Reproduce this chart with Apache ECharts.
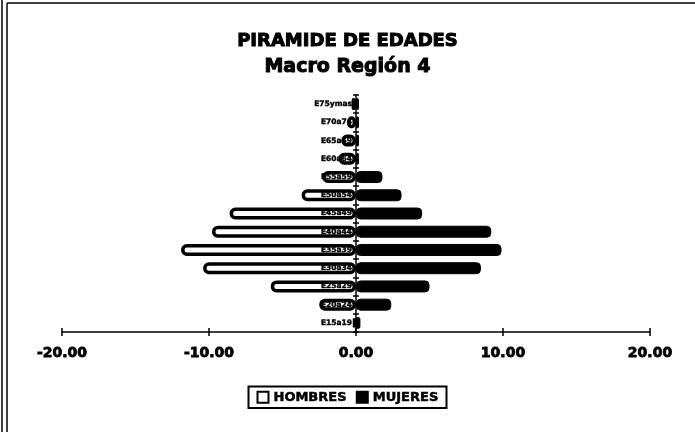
<!DOCTYPE html>
<html>
<head>
<meta charset="utf-8">
<script src="https://cdn.jsdelivr.net/npm/echarts@6/dist/echarts.min.js"></script>
<style>
html,body{margin:0;padding:0;background:#fff;}
#c{width:695px;height:432px;}
</style>
</head>
<body>
<div id="c"></div>
<script>
var categories = ['E15a19','E20a24','E25a29','E30a34','E35a39','E40a44','E45a49','E50a54','E55a59','E60a64','E65a69','E70a74','E75ymas'];
var hombres = [0.2, 2.5, 5.8, 10.4, 11.9, 9.8, 8.6, 3.7, 2.3, 1.2, 1.0, 0.6, 0.3];
var mujeres = [0.3, 2.4, 5.0, 8.5, 9.9, 9.2, 4.5, 3.1, 1.8, 0.2, 0.2, 0.2, 0.2];
var xTicks = [-20, -10, 0, 10, 20];

var chart = echarts.init(document.getElementById('c'));
var font = 'DejaVu Sans';
var gridLeft = 62, gridRight = 45, W = 695;
var zeroOffset = -((W - gridLeft - gridRight) / 2);
chart.setOption({
  animation: false,
  backgroundColor: '#fff',
  title: [
    {text: 'PIRAMIDE DE EDADES', left: 'center', top: 27, textStyle: {fontFamily: font, fontWeight: 'bold', fontSize: 18, color: '#000', textBorderColor: '#000', textBorderWidth: 1}},
    {text: 'Macro Región 4', left: 'center', top: 53, textStyle: {fontFamily: font, fontWeight: 'bold', fontSize: 19, color: '#000', textBorderColor: '#000', textBorderWidth: 1}}
  ],
  legend: {
    bottom: 24, left: 'center',
    data: ['HOMBRES', 'MUJERES'],
    itemWidth: 11, itemHeight: 11, itemGap: 9,
    borderColor: '#000', borderWidth: 2, padding: [4, 8],
    textStyle: {fontFamily: font, fontWeight: 'bold', fontSize: 13, color: '#000', textBorderColor: '#000', textBorderWidth: 0.5},
    icon: 'rect'
  },
  grid: {left: gridLeft, right: gridRight, top: 95, bottom: 100, containLabel: false},
  xAxis: [
    {
      type: 'value', min: -20, max: 20, interval: 10,
      axisLine: {show: true, lineStyle: {color: '#000', width: 1.5}},
      axisTick: {show: true, length: 4, lineStyle: {color: '#000', width: 1.5}},
      splitLine: {show: false},
      axisLabel: {margin: 14, fontFamily: font, fontWeight: 'bold', fontSize: 14, color: '#000', textBorderColor: '#000', textBorderWidth: 0.8,
        formatter: function (v) { return xTicks.indexOf(v) >= 0 ? v.toFixed(2) : ''; }}
    },
    {
      type: 'value', min: -20, max: 20, interval: 10, position: 'bottom',
      axisLine: {show: false},
      axisTick: {show: true, inside: true, length: 4, lineStyle: {color: '#000', width: 1.5}},
      splitLine: {show: false}, axisLabel: {show: false}
    }
  ],
  yAxis: [
    {
      type: 'category', data: categories, position: 'left', offset: zeroOffset,
      axisLine: {show: true, onZero: false, lineStyle: {color: '#000', width: 1.5}},
      axisTick: {show: true, length: 3, lineStyle: {color: '#000', width: 1.5}},
      axisLabel: {margin: 4, fontFamily: font, fontWeight: 'bold', fontSize: 7.5, color: '#000', textBorderColor: '#000', textBorderWidth: 0.4},
      z: 10
    },
    {
      type: 'category', data: categories, position: 'left', offset: zeroOffset,
      axisLine: {show: false, onZero: false},
      axisTick: {show: true, inside: true, length: 3, lineStyle: {color: '#000', width: 1.5}},
      axisLabel: {show: false},
      z: 10
    }
  ],
  series: [
    {
      name: 'HOMBRES', type: 'bar', stack: 'p', barWidth: 12,
      data: hombres.map(function (v) { return -v; }),
      itemStyle: {color: '#fff', borderColor: '#000', borderWidth: 3.5, borderRadius: 4}
    },
    {
      name: 'MUJERES', type: 'bar', stack: 'p', barWidth: 12,
      data: mujeres,
      itemStyle: {color: '#000', borderColor: '#000', borderWidth: 1, borderRadius: 4}
    }
  ],
  graphic: [
    {type: 'line', shape: {x1: 2, y1: 0, x2: 2, y2: 432}, style: {stroke: '#000', lineWidth: 1.5}},
    {type: 'line', shape: {x1: 7, y1: 3, x2: 7, y2: 432}, style: {stroke: '#000', lineWidth: 1.5}},
    {type: 'line', shape: {x1: 7, y1: 3, x2: 695, y2: 3}, style: {stroke: '#000', lineWidth: 1.5}}
  ]
});
</script>
</body>
</html>
